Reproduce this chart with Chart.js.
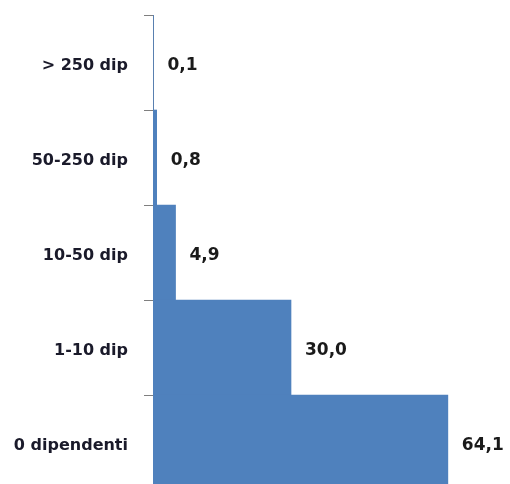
<!DOCTYPE html>
<html>
<head>
<meta charset="utf-8">
<script src="https://cdn.jsdelivr.net/npm/chart.js@4/dist/chart.umd.min.js"></script>
<style>
  body { margin: 0; overflow: hidden; background: #fff; }
</style>
</head>
<body>
<canvas id="chart" width="510" height="490"></canvas>
<script>
// categories top to bottom, share of firms (%)
const categories = ["> 250 dip", "50-250 dip", "10-50 dip", "1-10 dip", "0 dipendenti"];
const values = [0.1, 0.8, 4.9, 30.0, 64.1];

// draws the value next to each bar, Italian comma decimal
const valueLabels = {
  id: "valueLabels",
  afterDatasetsDraw(chart) {
    const ctx = chart.ctx;
    const meta = chart.getDatasetMeta(0);
    ctx.save();
    ctx.font = "bold 17px 'DejaVu Sans'";
    ctx.fillStyle = "#1a1a1a";
    ctx.textAlign = "left";
    ctx.textBaseline = "middle";
    meta.data.forEach(function (bar, i) {
      let txt = values[i].toFixed(1).replace(".", ",");
      ctx.fillText(txt, bar.x + 14, bar.y + 3);
    });
    ctx.restore();
  }
};

const ctx = document.getElementById("chart").getContext("2d");
new Chart(ctx, {
  type: "bar",
  data: {
    labels: categories,
    datasets: [{
      data: values,
      backgroundColor: "#4f81bd",
      barPercentage: 1,
      categoryPercentage: 1
    }]
  },
  options: {
    indexAxis: "y",
    responsive: false,
    animation: false,
    layout: { padding: { top: 15, bottom: 0, left: 0, right: 35 } },
    plugins: {
      legend: { display: false },
      tooltip: { enabled: false }
    },
    scales: {
      x: { display: false, min: 0, max: 70 },
      y: {
        afterFit: function (scale) {
          scale.width = 153;
          scale.paddingTop = 0;
          scale.paddingBottom = 0;
        },
        grid: {
          drawOnChartArea: false,
          drawTicks: true,
          tickLength: 9,
          color: "#7f7f7f"
        },
        border: { display: true, color: "#7f7f7f", width: 1 },
        ticks: {
          padding: 16,
          labelOffset: 3,
          color: "#1a1a2a",
          font: { family: "DejaVu Sans", size: 16, weight: "bold" }
        }
      }
    }
  },
  plugins: [valueLabels]
});
</script>
</body>
</html>
